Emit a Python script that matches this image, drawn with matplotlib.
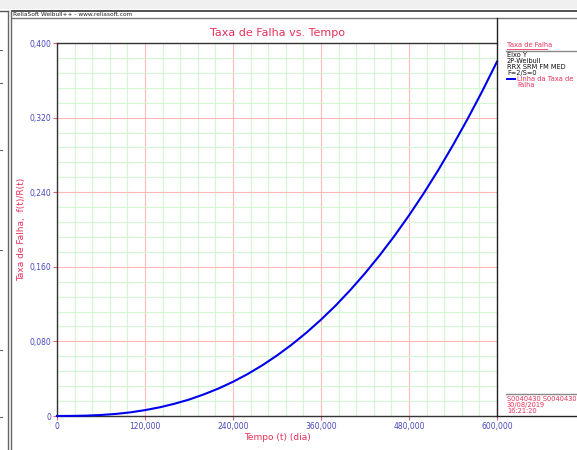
import matplotlib
matplotlib.use("Agg")
import matplotlib.pyplot as plt
from matplotlib.lines import Line2D
from matplotlib.ticker import MultipleLocator

# Data
tempo = [0, 20000, 40000, 60000, 80000, 100000, 120000, 140000, 160000, 180000,
         200000, 220000, 240000, 260000, 280000, 300000, 320000, 340000, 360000,
         380000, 400000, 420000, 440000, 460000, 480000, 500000, 520000, 540000,
         560000, 580000, 600000]
taxa = [0.0, 0.0001, 0.0004, 0.0011, 0.0022, 0.0039, 0.0063, 0.0093, 0.0131, 0.0176,
        0.0231, 0.0294, 0.0367, 0.0450, 0.0544, 0.0649, 0.0765, 0.0893, 0.1033,
        0.1185, 0.1351, 0.1530, 0.1723, 0.1930, 0.2151, 0.2387, 0.2638, 0.2905,
        0.3187, 0.3485, 0.3800]
xticks = [0, 120000, 240000, 360000, 480000, 600000]
xticklabels = ["0", "120,000", "240,000", "360,000", "480,000", "600,000"]
yticks = [0, 0.08, 0.16, 0.24, 0.32, 0.40]
yticklabels = ["0", "0,080", "0,160", "0,240", "0,320", "0,400"]
legend_lines = ["Eixo Y", "2P-Weibull", "RRX SRM FM MED", "F=2/S=0"]
stamp_lines = ["S0040430 S0040430", "30/08/2019", "16:21:20"]

W, H = 577, 450
RED = "#e8305a"
BLUE_T = "#4848c0"

fig = plt.figure(figsize=(W / 100, H / 100), dpi=100)
fig.patch.set_facecolor("white")

def fx(px):
    return px / W

def fy(py):
    return 1 - py / H

# window chrome
fig.patches.append(plt.Rectangle((0, fy(9)), 1, 1 - fy(9), transform=fig.transFigure,
                                 facecolor="#f0f0f0", edgecolor="none", zorder=0))
for (x0, y0, x1, y1, c, lw) in [
    (0, 11, 8, 11, "#555555", 1.0),
    (12, 11, W, 11, "#333333", 1.2),
    (12, 18, W, 18, "#777777", 1.0),
    (8, 11, 8, H, "#666666", 1.0),
    (11, 11, 11, H, "#666666", 1.0),
    (497, 18, 497, 416, "#222222", 1.0),
    (506, 51, W, 51, "#888888", 1.0),
    (506, 394, W, 394, "#888888", 1.0),
    (497, 416, W, 416, "#222222", 1.0),
]:
    fig.add_artist(Line2D([fx(x0), fx(x1)], [fy(y0), fy(y1)], transform=fig.transFigure,
                          color=c, lw=lw))
for yy in [50, 83, 150, 250, 350, 417]:
    fig.add_artist(Line2D([fx(0), fx(2)], [fy(yy), fy(yy)], transform=fig.transFigure,
                          color="#666666", lw=0.8))
fig.text(fx(13), fy(15), "ReliaSoft Weibull++ - www.reliasoft.com", fontsize=4.2,
         color="#222222", va="center", ha="left")

ax = fig.add_axes([fx(57), fy(416), fx(497) - fx(57), fy(43) - fy(416)])
ax.set_xlim(0, 600000)
ax.set_ylim(0, 0.4)
ax.xaxis.set_minor_locator(MultipleLocator(24000))
ax.yaxis.set_minor_locator(MultipleLocator(0.016))
ax.set_xticks(xticks)
ax.set_xticklabels(xticklabels)
ax.set_yticks(yticks)
ax.set_yticklabels(yticklabels)
ax.grid(which="minor", color="#d2f7d2", lw=0.8)
ax.grid(which="major", color="#ffb8b8", lw=0.8)
ax.set_axisbelow(True)
ax.tick_params(which="major", length=3, width=0.8, color="#e06080",
               labelsize=5.5, labelcolor=BLUE_T, pad=1)
ax.tick_params(which="minor", length=0)
for s in ["left", "bottom", "top"]:
    ax.spines[s].set_color("#333333")
    ax.spines[s].set_linewidth(1.0)
ax.spines["right"].set_visible(False)

ax.plot(tempo, taxa, color="#0000ee", lw=1.5, clip_on=False, zorder=5)

ax.set_title("Taxa de Falha vs. Tempo", color=RED, fontsize=8, pad=5)
ax.set_xlabel("Tempo (t) (dia)", color=RED, fontsize=6.5)
ax.set_ylabel("Taxa de Falha,  f(t)/R(t)", color=RED, fontsize=6.5)
ax.xaxis.set_label_coords(0.5, -(438 - 416) / 373, transform=ax.transAxes)
ax.yaxis.set_label_coords(-(57 - 22) / 440, 0.5, transform=ax.transAxes)
ax.xaxis.label.set_va("center")
ax.yaxis.label.set_va("center")

# right legend panel
fig.text(fx(507), fy(45), "Taxa de Falha", fontsize=4.8, color=RED, va="center")
fig.add_artist(Line2D([fx(507), fx(547)], [fy(48.5), fy(48.5)], transform=fig.transFigure,
                      color=RED, lw=0.6))
for i, t in enumerate(legend_lines):
    fig.text(fx(507), fy(55 + 6 * i), t, fontsize=4.8, color="#111111", va="center")
fig.add_artist(Line2D([fx(507), fx(515)], [fy(79), fy(79)], transform=fig.transFigure,
                      color="#0000ee", lw=1.4))
fig.text(fx(517), fy(79), "Linha da Taxa de", fontsize=4.8, color=RED, va="center")
fig.text(fx(517), fy(85), "Falha", fontsize=4.8, color=RED, va="center")
for i, t in enumerate(stamp_lines):
    fig.text(fx(507), fy(399 + 6 * i), t, fontsize=4.8, color=RED, va="center")

fig.savefig("out.png", dpi=100)
